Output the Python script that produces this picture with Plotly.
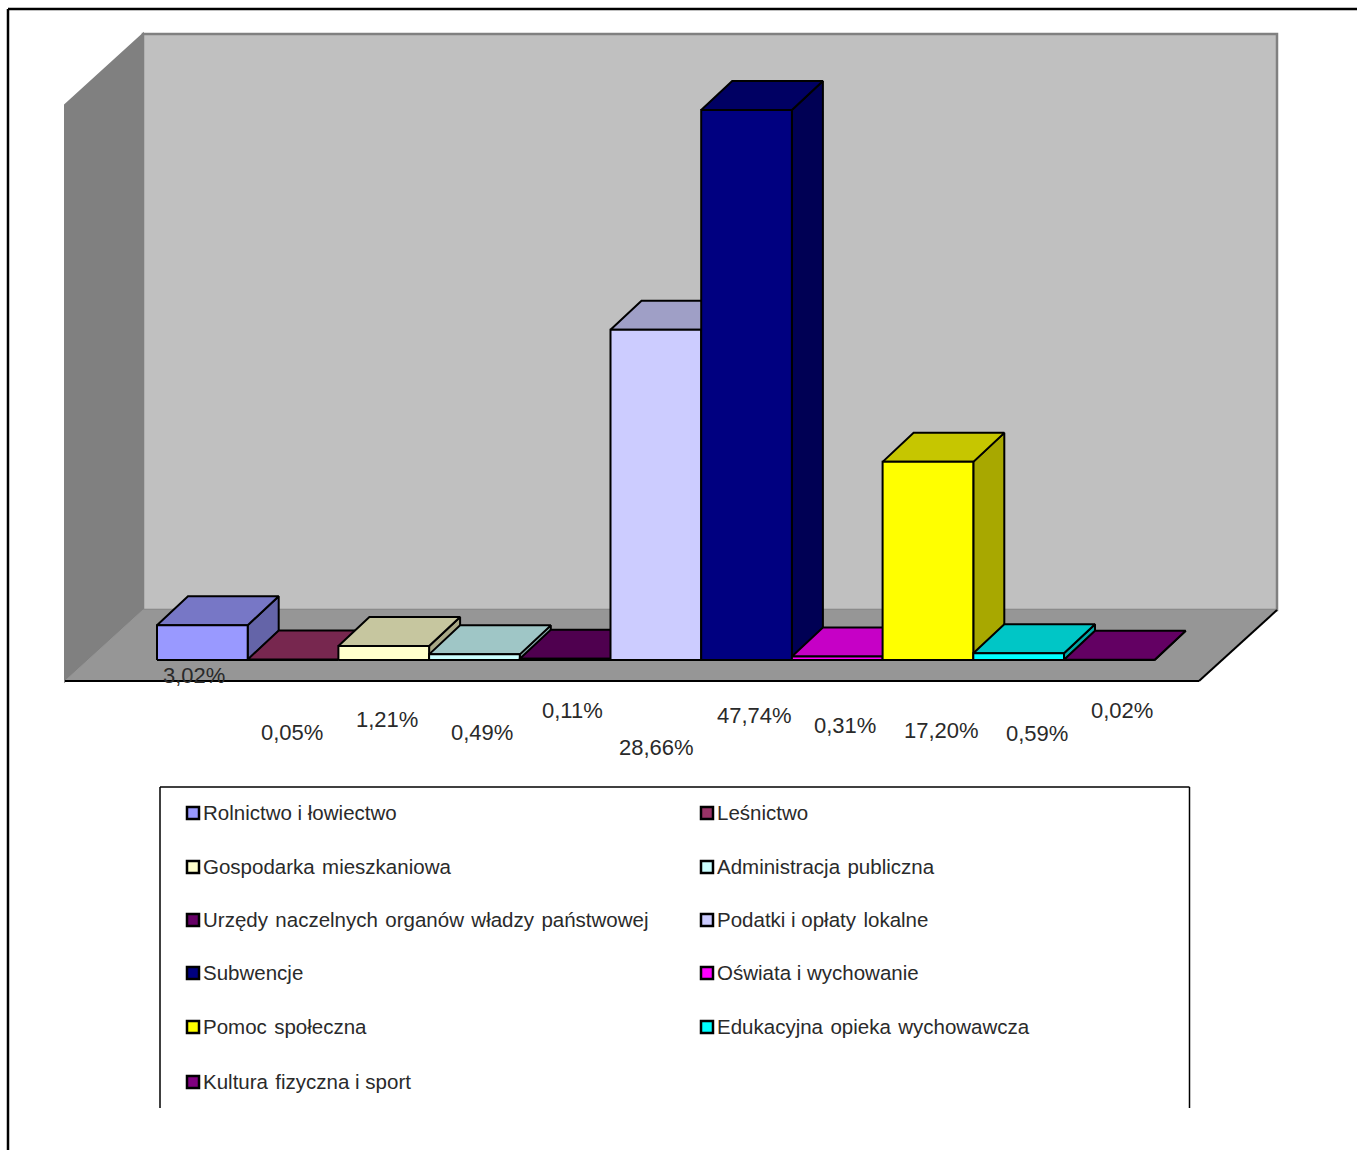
import plotly.graph_objects as go

categories = ["Rolnictwo i łowiectwo", "Leśnictwo", "Gospodarka  mieszkaniowa", "Administracja  publiczna",
              "Urzędy  naczelnych  organów  władzy  państwowej", "Podatki i opłaty  lokalne", "Subwencje",
              "Oświata i wychowanie", "Pomoc  społeczna", "Edukacyjna  opieka  wychowawcza", "Kultura  fizyczna i sport"]
values = [3.02, 0.05, 1.21, 0.49, 0.11, 28.66, 47.74, 0.31, 17.20, 0.59, 0.02]
colors = ["#9999FF", "#993366", "#FFFFCC", "#CCFFFF", "#660066", "#CCCCFF", "#000080", "#FF00FF", "#FFFF00", "#00FFFF", "#800080"]
label_px = [(194, 675), (292, 732), (387, 719), (482, 732), (572, 710), (656, 747), (754, 715), (845, 725), (941, 730), (1037, 733), (1122, 710)]
legend_rows = [813, 867, 920, 973, 1027, 1082]
legend_cols = [193, 707]

W, H = 1357, 1150
BASE_PX, BAR0_PX, BAR_W, PX_PER_UNIT = 660, 157, 90.7, 11.52
DX, DY = 31 / BAR_W, 29 / PX_PER_UNIT
FONT = "Liberation Sans"


def shade(col, k):
    r, g, b = [int(col[i:i + 2], 16) for i in (1, 3, 5)]
    return f"rgb({int(r * k)},{int(g * k)},{int(b * k)})"


def px(x):
    return x / W


def py(y):
    return 1 - y / H


def poly(points, fill, line=None, width=1):
    path = "M " + " L ".join(f"{px(a):.5f},{py(b):.5f}" for a, b in points) + " Z"
    return dict(type="path", xref="paper", yref="paper", path=path, fillcolor=fill,
                line=dict(color=line or fill, width=width), layer="below")


def seg(x0, y0, x1, y1, color="black", width=2):
    return dict(type="line", xref="paper", yref="paper", x0=px(x0), y0=py(y0), x1=px(x1), y1=py(y1),
                line=dict(color=color, width=width), layer="below")


shapes = [
    seg(8, 9, 1357, 9, width=2.5), seg(8, 9, 8, 1150, width=2.5),
    poly([(65, 105), (143, 34), (143, 610), (65, 681)], "#808080", "#808080", 2),
    poly([(143, 34), (1277, 34), (1277, 610), (143, 610)], "#C0C0C0", "#808080", 2.5),
    poly([(65, 681), (143, 610), (1277, 610), (1199, 681)], "#969696", "#969696", 1),
    seg(65, 681, 1199, 681), seg(1199, 681, 1277, 610),
    seg(160, 787, 1189.5, 787, width=1.5), seg(160, 787, 160, 1108, width=1.5), seg(1189.5, 787, 1189.5, 1108, width=1.5),
]

fig = go.Figure()
for i, (v, c) in enumerate(zip(values, colors)):
    x0, x1 = i - 0.5, i + 0.5
    common = dict(mode="lines", fill="toself", line=dict(color="black", width=2), hoverinfo="skip", showlegend=False)
    fig.add_trace(go.Scatter(x=[x1, x1 + DX, x1 + DX, x1, x1], y=[0, DY, v + DY, v, 0], fillcolor=shade(c, 0.66), **common))
    fig.add_trace(go.Scatter(x=[x0, x1, x1 + DX, x0 + DX, x0], y=[v, v, v + DY, v + DY, v], fillcolor=shade(c, 0.78), **common))
    fig.add_trace(go.Scatter(x=[x0, x1, x1, x0, x0], y=[0, 0, v, v, 0], fillcolor=c, name=categories[i], **common))

annotations = []
for v, (lx, ly) in zip(values, label_px):
    annotations.append(dict(xref="paper", yref="paper", x=px(lx), y=py(ly), xanchor="center", yanchor="middle", showarrow=False,
                            text=f"{v:.2f}%".replace(".", ","), font=dict(family=FONT, size=22, color="#2a2a2a")))

for i, (name, c) in enumerate(zip(categories, colors)):
    sx, sy = legend_cols[i % 2], legend_rows[i // 2]
    shapes.append(poly([(sx - 6, sy - 6), (sx + 6, sy - 6), (sx + 6, sy + 6), (sx - 6, sy + 6)], c, "black", 2.5))
    annotations.append(dict(xref="paper", yref="paper", x=px(sx + 8), y=py(sy - 1), xanchor="left", yanchor="middle", showarrow=False,
                            text=name.replace("  ", "\u00a0\u200a"), font=dict(family=FONT, size=20.5, color="#2a2a2a")))

x_lo = (0 - BAR0_PX) / BAR_W - 0.5
x_hi = (W - BAR0_PX) / BAR_W - 0.5
fig.update_layout(
    width=W, height=H, margin=dict(l=0, r=0, t=0, b=0), paper_bgcolor="white", plot_bgcolor="rgba(0,0,0,0)",
    xaxis=dict(range=[x_lo, x_hi], visible=False), yaxis=dict(range=[(BASE_PX - H) / PX_PER_UNIT, BASE_PX / PX_PER_UNIT], visible=False),
    shapes=shapes, annotations=annotations, showlegend=False,
)
fig.write_html("out.html", config=dict(displayModeBar=False),
               post_script="document.body.style.margin='0';document.documentElement.style.overflow='hidden';")
